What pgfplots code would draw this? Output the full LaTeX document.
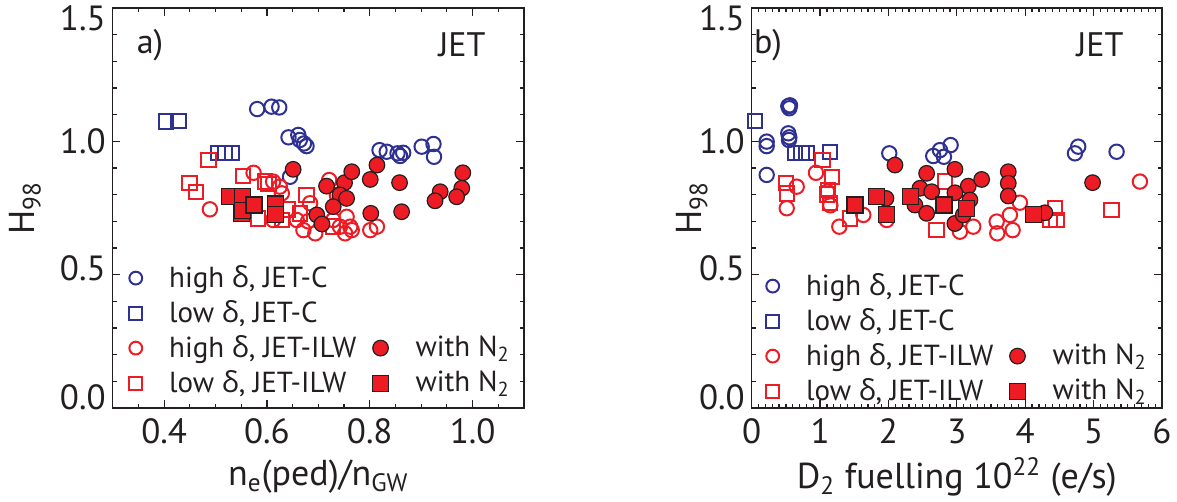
\documentclass[border=0pt]{standalone}
\usepackage{fontspec}
\setmainfont{PT Sans}
\newfontfamily\grk{Open Sans}
\usepackage{pgfplots}
\pgfplotsset{compat=1.18}

\definecolor{jblue}{RGB}{46,49,146}
\definecolor{jred}{RGB}{237,28,36}
\definecolor{jdark}{RGB}{35,31,32}

\newcommand{\dlt}{{\grk δ}}

\pgfplotsset{
  jet/.style={
    scale only axis,
    height=200pt,
    ymin=0, ymax=1.5,
    ytick={0,0.5,1,1.5},
    minor y tick num=4,
    axis line style={jdark, line width=0.6pt},
    tick style={jdark, line width=0.6pt},
    major tick length=3.8pt,
    minor tick length=2.2pt,
    tick align=inside,
    tick pos=both,
    /pgf/number format/assume math mode=true,
    ticklabel style={font=\fontsize{17.5}{20}\selectfont, text=jdark},
    xticklabel style={yshift=-2pt},
    yticklabels={0.0,0.5,1.0,1.5},
    yticklabel style={yshift={\ticknum==0 ? 5.5 : (\ticknum==1 ? 3 : (\ticknum==3 ? -5 : 0))}},
    label style={font=\fontsize{18}{21}\selectfont, text=jdark},
    xlabel style={at={(axis description cs:0.5,0)}, anchor=center, yshift=-34.5pt},
    legend columns=2,
    legend cell align=left,
    legend style={draw=none, fill=none, font=\fontsize{14.5}{17}\selectfont, text=jdark,
      row sep=1pt,
      /tikz/every odd column/.append style={column sep=11.5pt},
      /tikz/every even column/.append style={column sep=1.5pt}},
    hc/.style={only marks, mark=o, mark size=3.6pt, line width=1pt, color=jblue},
    lc/.style={only marks, mark=square, mark size=3.6pt, line width=1pt, color=jblue},
    hw/.style={only marks, mark=o, mark size=3.6pt, line width=1pt, color=jred},
    lw/.style={only marks, mark=square, mark size=3.6pt, line width=1pt, color=jred},
    fc/.style={only marks, mark=*, mark size=3.9pt, mark options={fill=jred, draw=jdark, line width=0.6pt}},
    fs/.style={only marks, mark=square*, mark size=4pt, mark options={fill=jred, draw=jdark, line width=0.6pt}},
  },
}

\begin{document}
\begin{tikzpicture}
\useasboundingbox (0,0) rectangle (588.5pt,251pt);

% panel a
\begin{axis}[jet,
  at={(56.35pt,47pt)}, anchor=south west,
  width=205.65pt,
  xmin=0.3, xmax=1.1,
  xtick={0.4,0.6,0.8,1.0},
  minor xtick={0.35,0.45,0.5,0.55,0.65,0.7,0.75,0.85,0.9,0.95,1.05},
  xticklabel style={/pgf/number format/fixed, /pgf/number format/fixed zerofill, /pgf/number format/precision=1},
  xlabel={n\textsubscript{e}(ped)/n\textsubscript{GW}},
  ylabel={H\textsubscript{98}},
  ylabel style={at={(axis description cs:-0.213,0.5)}, anchor=center},
  legend style={at={(axis description cs:0.025,0.377)}, anchor=north west},
]
\addplot[hc, forget plot] coordinates {(0.581,1.121) (0.609,1.130) (0.624,1.127) (0.642,1.015) (0.661,1.024) (0.664,1.005) (0.672,0.992) (0.677,0.982) (0.645,0.867) (0.819,0.967) (0.833,0.961) (0.854,0.955) (0.859,0.945) (0.865,0.957) (0.901,0.980) (0.924,0.990) (0.925,0.942)};
\addplot[lc, forget plot] coordinates {(0.404,1.074) (0.428,1.076) (0.505,0.957) (0.518,0.957) (0.532,0.957)};
\addplot[hw, forget plot] coordinates {(0.489,0.745) (0.574,0.882) (0.612,0.849) (0.625,0.830) (0.629,0.805) (0.684,0.768) (0.721,0.855) (0.671,0.667) (0.694,0.655) (0.729,0.705) (0.742,0.680) (0.755,0.717) (0.762,0.680) (0.752,0.655) (0.765,0.667) (0.801,0.667) (0.814,0.680) (0.736,0.799) (0.742,0.817) (0.612,0.705) (0.658,0.705) (0.680,0.700)};
\addplot[lw, forget plot] coordinates {(0.486,0.930) (0.449,0.843) (0.462,0.811) (0.554,0.870) (0.596,0.849) (0.603,0.840) (0.677,0.799) (0.664,0.730) (0.583,0.711) (0.629,0.705) (0.729,0.680) (0.640,0.745)};
\addplot[fc, forget plot] coordinates {(0.651,0.895) (0.716,0.832) (0.751,0.845) (0.765,0.886) (0.742,0.799) (0.755,0.786) (0.729,0.755) (0.697,0.724) (0.707,0.690) (0.801,0.857) (0.814,0.911) (0.858,0.845) (0.802,0.730) (0.862,0.736) (0.981,0.882) (0.979,0.824) (0.937,0.811) (0.927,0.777) (0.969,0.792)};
\addplot[fs, forget plot] coordinates {(0.527,0.792) (0.551,0.730) (0.553,0.792) (0.553,0.742) (0.575,0.761) (0.617,0.765) (0.617,0.726)};
\node[font=\fontsize{17}{20}\selectfont, text=jdark] at (axis cs:0.3726,1.361) {a)};
\node[font=\fontsize{17}{20}\selectfont, text=jdark] at (axis cs:0.9796,1.361) {JET};
\addlegendimage{hc, mark size=3.2pt}
\addlegendentry{high \dlt, JET-C}
\addlegendimage{empty legend}
\addlegendentry{}
\addlegendimage{lc, mark size=3.2pt}
\addlegendentry{low \dlt, JET-C}
\addlegendimage{empty legend}
\addlegendentry{}
\addlegendimage{hw, mark size=3.2pt}
\addlegendentry{high \dlt, JET-ILW}
\addlegendimage{fc}
\addlegendentry{with N\textsubscript{2}}
\addlegendimage{lw, mark size=3.2pt}
\addlegendentry{low \dlt, JET-ILW}
\addlegendimage{fs}
\addlegendentry{with N\textsubscript{2}}
\end{axis}

% panel b
\begin{axis}[jet,
  at={(375.85pt,47pt)}, anchor=south west,
  width=205.15pt,
  xmin=0, xmax=6,
  xtick={0,1,2,3,4,5,6},
  minor x tick num=9,
  xlabel={D\textsubscript{2} fuelling 10\textsuperscript{22} (e/s)},
  ylabel={H\textsubscript{98}},
  ylabel style={at={(axis description cs:-0.146,0.5)}, anchor=center},
  legend style={at={(axis description cs:0.02,0.357)}, anchor=north west},
]
\addplot[hc, forget plot] coordinates {(0.535,1.132) (0.550,1.124) (0.560,1.135) (0.535,1.030) (0.550,1.015) (0.545,1.005) (0.219,0.999) (0.219,0.982) (0.219,0.874) (2.012,0.955) (2.655,0.945) (2.753,0.967) (2.811,0.942) (2.909,0.986) (4.727,0.955) (4.775,0.980) (5.336,0.961)};
\addplot[lc, forget plot] coordinates {(0.048,1.076) (0.633,0.957) (0.731,0.957) (0.804,0.957) (1.145,0.961)};
\addplot[hw, forget plot] coordinates {(0.658,0.830) (0.512,0.749) (0.940,0.882) (1.105,0.811) (1.281,0.680) (1.632,0.724) (1.974,0.705) (1.974,0.730) (2.972,0.692) (3.045,0.661) (3.240,0.680) (3.582,0.699) (3.591,0.655) (3.776,0.724) (3.816,0.667) (3.922,0.770) (5.677,0.849) (1.150,0.760)};
\addplot[lw, forget plot] coordinates {(1.038,0.930) (1.170,0.867) (0.501,0.843) (0.512,0.805) (1.120,0.817) (1.145,0.768) (1.437,0.711) (2.826,0.849) (2.705,0.667) (4.434,0.749) (4.361,0.705) (4.459,0.705) (5.263,0.742) (1.100,0.800)};
\addplot[fc, forget plot] coordinates {(2.095,0.911) (2.558,0.880) (2.972,0.895) (2.461,0.824) (2.632,0.811) (2.387,0.761) (2.558,0.730) (3.167,0.832) (2.972,0.807) (3.191,0.780) (3.363,0.857) (3.752,0.886) (3.752,0.843) (3.752,0.795) (2.972,0.692) (3.094,0.724) (1.963,0.786) (4.288,0.732) (4.985,0.845)};
\addplot[fs, forget plot] coordinates {(1.510,0.761) (1.827,0.792) (1.974,0.727) (2.325,0.792) (2.811,0.761) (3.143,0.749) (4.117,0.727)};
\node[font=\fontsize{17}{20}\selectfont, text=jdark] at (axis cs:0.238,1.361) {b)};
\node[font=\fontsize{17}{20}\selectfont, text=jdark] at (axis cs:5.094,1.361) {JET};
\addlegendimage{hc, mark size=3.2pt}
\addlegendentry{high \dlt, JET-C}
\addlegendimage{empty legend}
\addlegendentry{}
\addlegendimage{lc, mark size=3.2pt}
\addlegendentry{low \dlt, JET-C}
\addlegendimage{empty legend}
\addlegendentry{}
\addlegendimage{hw, mark size=3.2pt}
\addlegendentry{high \dlt, JET-ILW}
\addlegendimage{fc}
\addlegendentry{with N\textsubscript{2}}
\addlegendimage{lw, mark size=3.2pt}
\addlegendentry{low \dlt, JET-ILW}
\addlegendimage{fs}
\addlegendentry{with N\textsubscript{2}}
\end{axis}
\end{tikzpicture}
\end{document}
